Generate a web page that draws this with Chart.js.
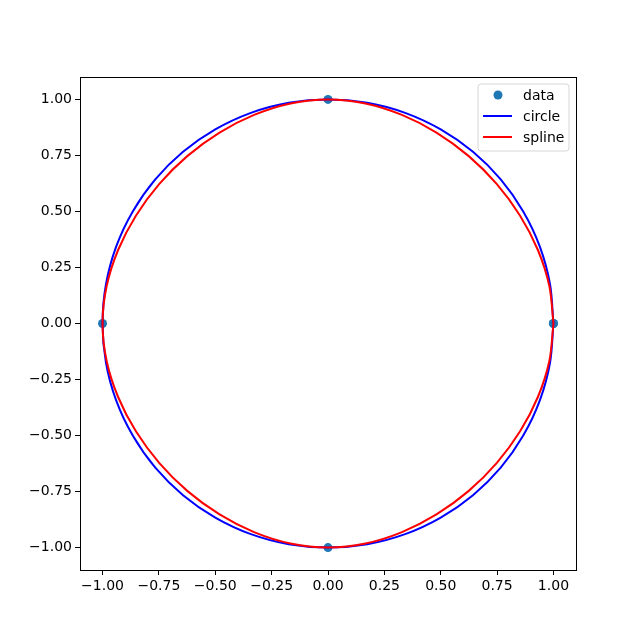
<!DOCTYPE html>
<html>
<head>
<meta charset="utf-8">
<script src="https://cdn.jsdelivr.net/npm/chart.js@4/dist/chart.umd.min.js"></script>
<style>
  body { margin: 0; background: #fff; }
</style>
</head>
<body>
<canvas id="myChart" width="640" height="640"></canvas>
<script>
// knots
const dataX = [1, 0, -1, 0, 1];
const dataY = [0, 1, 0, -1, 0];

// circle, every 10 degrees
const circleX = [1, 0.985, 0.940, 0.866, 0.766, 0.643, 0.500, 0.342, 0.174, 0,
  -0.174, -0.342, -0.500, -0.643, -0.766, -0.866, -0.940, -0.985, -1,
  -0.985, -0.940, -0.866, -0.766, -0.643, -0.500, -0.342, -0.174, 0,
  0.174, 0.342, 0.500, 0.643, 0.766, 0.866, 0.940, 0.985, 1];
const circleY = [0, 0.174, 0.342, 0.500, 0.643, 0.766, 0.866, 0.940, 0.985, 1,
  0.985, 0.940, 0.866, 0.766, 0.643, 0.500, 0.342, 0.174, 0,
  -0.174, -0.342, -0.500, -0.643, -0.766, -0.866, -0.940, -0.985, -1,
  -0.985, -0.940, -0.866, -0.766, -0.643, -0.500, -0.342, -0.174, 0];

// periodic spline, same parameter steps
const splineX = [1, 0.982, 0.931, 0.852, 0.748, 0.623, 0.481, 0.328, 0.166, 0,
  -0.166, -0.328, -0.481, -0.623, -0.748, -0.852, -0.931, -0.982, -1,
  -0.982, -0.931, -0.852, -0.748, -0.623, -0.481, -0.328, -0.166, 0,
  0.166, 0.328, 0.481, 0.623, 0.748, 0.852, 0.931, 0.982, 1];
const splineY = [0, 0.166, 0.328, 0.481, 0.623, 0.748, 0.852, 0.931, 0.982, 1,
  0.982, 0.931, 0.852, 0.748, 0.623, 0.481, 0.328, 0.166, 0,
  -0.166, -0.328, -0.481, -0.623, -0.748, -0.852, -0.931, -0.982, -1,
  -0.982, -0.931, -0.852, -0.748, -0.623, -0.481, -0.328, -0.166, 0];

const tickValues = [-1, -0.75, -0.5, -0.25, 0, 0.25, 0.5, 0.75, 1];
const tickLabels = ['\u22121.00', '\u22120.75', '\u22120.50', '\u22120.25', '0.00', '0.25', '0.50', '0.75', '1.00'];

const legendLabels = ['data', 'circle', 'spline'];

function toPoints(xs, ys) {
    return xs.map((x, i) => ({ x: x, y: ys[i] }));
}

const frame = {
    id: 'frame',
    afterDatasetsDraw(chart) {
        const a = chart.chartArea;
        const ctx = chart.ctx;
        ctx.save();
        ctx.strokeStyle = '#000';
        ctx.lineWidth = 1;
        ctx.strokeRect(Math.round(a.left) + 0.5, Math.round(a.top) + 0.5,
            Math.round(a.right - a.left), Math.round(a.bottom - a.top));

        // legend box, matplotlib style
        const bx = 478, by = 84, bw = 91, bh = 67, r = 3;
        ctx.beginPath();
        ctx.moveTo(bx + r, by);
        ctx.arcTo(bx + bw, by, bx + bw, by + bh, r);
        ctx.arcTo(bx + bw, by + bh, bx, by + bh, r);
        ctx.arcTo(bx, by + bh, bx, by, r);
        ctx.arcTo(bx, by, bx + bw, by, r);
        ctx.closePath();
        ctx.fillStyle = 'rgba(255,255,255,0.8)';
        ctx.fill();
        ctx.strokeStyle = 'rgba(204,204,204,0.8)';
        ctx.stroke();

        const rows = [95, 116, 137];
        ctx.font = '14px "DejaVu Sans"';
        ctx.textBaseline = 'middle';
        ctx.fillStyle = '#000';
        legendLabels.forEach((t, i) => ctx.fillText(t, 523, rows[i] + 1));

        ctx.beginPath();
        ctx.arc(498, rows[0], 4.5, 0, Math.PI * 2);
        ctx.fillStyle = '#1f77b4';
        ctx.fill();

        ctx.lineWidth = 2;
        ctx.strokeStyle = '#0000ff';
        ctx.beginPath(); ctx.moveTo(483, rows[1]); ctx.lineTo(512, rows[1]); ctx.stroke();
        ctx.strokeStyle = '#ff0000';
        ctx.beginPath(); ctx.moveTo(483, rows[2]); ctx.lineTo(512, rows[2]); ctx.stroke();
        ctx.restore();
    }
};

function axisOpts(widthOrHeight, isY) {
    return {
        type: 'linear',
        min: -1.1,
        max: 1.1,
        afterBuildTicks: (scale) => {
            scale.ticks = tickValues.map(v => ({ value: v }));
        },
        afterFit: (scale) => {
            if (isY) scale.width = widthOrHeight; else scale.height = widthOrHeight;
        },
        ticks: {
            autoSkip: false,
            maxRotation: 0,
            color: '#000',
            padding: 3,
            font: { family: 'DejaVu Sans', size: 14 },
            callback: (v) => {
                const i = tickValues.indexOf(v);
                return i >= 0 ? tickLabels[i] : '';
            }
        },
        grid: {
            display: true,
            drawOnChartArea: false,
            drawTicks: true,
            tickLength: 5,
            color: '#000'
        },
        border: { display: true, color: '#000', width: 1 }
    };
}

var ctx = document.getElementById('myChart').getContext('2d');
var chart = new Chart(ctx, {
    type: 'scatter',
    data: {
        datasets: [{
            label: 'spline',
            data: toPoints(splineX, splineY),
            showLine: true,
            borderColor: '#ff0000',
            borderWidth: 2,
            pointRadius: 0,
            tension: 0.3,
            order: 0
        }, {
            label: 'circle',
            data: toPoints(circleX, circleY),
            showLine: true,
            borderColor: '#0000ff',
            borderWidth: 2,
            pointRadius: 0,
            tension: 0.3,
            order: 1
        }, {
            label: 'data',
            data: toPoints(dataX, dataY),
            backgroundColor: '#1f77b4',
            borderWidth: 0,
            pointRadius: 4.5,
            order: 2
        }]
    },
    plugins: [frame],
    options: {
        responsive: false,
        animation: false,
        layout: { padding: { top: 77, right: 64, left: 0, bottom: 0 } },
        scales: {
            x: axisOpts(70, false),
            y: axisOpts(80, true)
        },
        plugins: {
            legend: { display: false },
            tooltip: { enabled: false }
        }
    }
});
</script>
</body>
</html>
